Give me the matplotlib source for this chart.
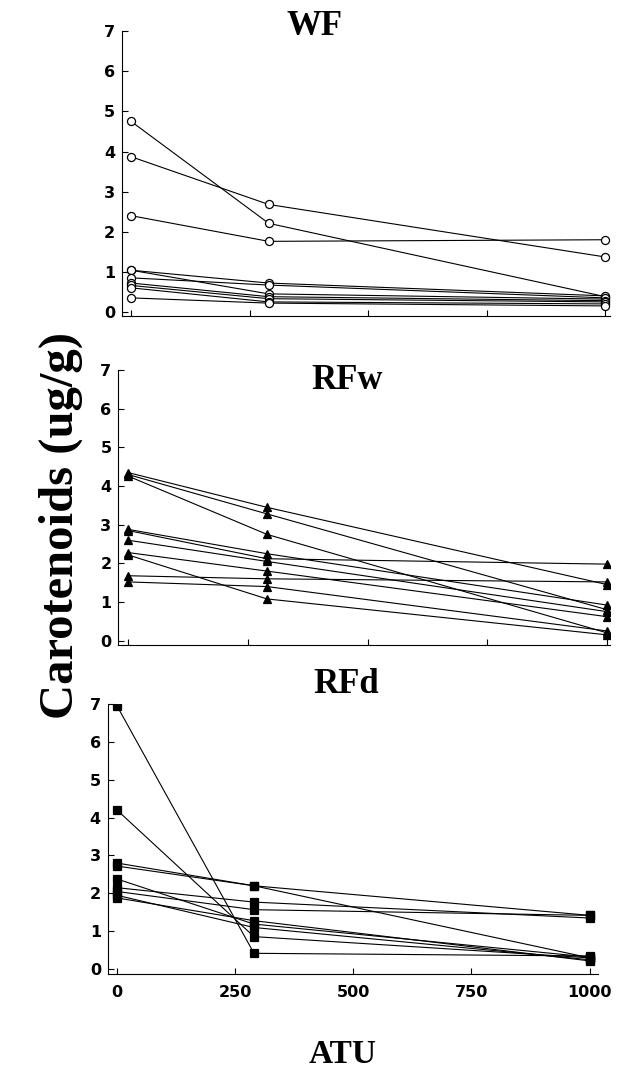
import matplotlib
matplotlib.use('Agg')
import matplotlib.pyplot as plt

# Данные: время (ATU) и каротиноиды (ug/g) для каждой рыбы
atu = [0, 290, 1000]

wf = [
    [4.75, 2.21, 0.38],
    [3.87, 2.68, 1.37],
    [2.40, 1.76, 1.80],
    [1.04, 0.72, 0.40],
    [1.04, 0.45, 0.32],
    [0.85, 0.67, 0.35],
    [0.72, 0.38, 0.28],
    [0.66, 0.33, 0.25],
    [0.60, 0.25, 0.20],
    [0.35, 0.22, 0.15],
]

rfw = [
    [4.35, 3.45, 1.45],
    [4.30, 3.28, 0.80],
    [4.26, 2.75, 0.20],
    [2.88, 2.25, 0.92],
    [2.85, 2.12, 1.98],
    [2.60, 2.05, 0.75],
    [2.28, 1.80, 0.62],
    [2.22, 1.08, 0.15],
    [1.68, 1.60, 1.52],
    [1.52, 1.40, 0.25],
]

rfd = [
    [6.95, 0.42, 0.35],
    [4.20, 0.86, 0.30],
    [2.80, 2.20, 1.42],
    [2.72, 2.20, 0.30],
    [2.38, 1.19, 0.32],
    [2.15, 1.77, 1.35],
    [2.05, 1.57, 1.42],
    [1.95, 1.10, 0.25],
    [1.88, 1.28, 0.22],
]

titles = ['WF', 'RFw', 'RFd']
x_ticks = [0, 250, 500, 750, 1000]
y_ticks = [0, 1, 2, 3, 4, 5, 6, 7]

fig = plt.figure(figsize=(6.2, 10.76), dpi=100)

# Положение панелей (left, bottom, width, height), пределы осей и место заголовка
boxes = [
    [0.197, 0.706, 0.787, 0.265],
    [0.191, 0.401, 0.793, 0.255],
    [0.174, 0.095, 0.790, 0.251],
]
xlims = [(-19, 1010), (-20, 1006), (-19, 1017)]
ylims = [(-0.11, 7), (-0.10, 7), (-0.12, 7)]
title_pos = [(0.508, 0.9675), (0.560, 0.6385), (0.558, 0.356)]
panels = [(wf, 'o', 'white', 5.8), (rfw, '^', 'black', 6.2), (rfd, 's', 'black', 5.5)]

for i, (data, marker, face, ms) in enumerate(panels):
    ax = fig.add_axes(boxes[i])
    for row in data:
        ax.plot(atu, row, color='black', linewidth=0.8, marker=marker,
                markersize=ms, markerfacecolor=face, markeredgecolor='black',
                markeredgewidth=0.9)
    ax.set_xlim(*xlims[i])
    ax.set_ylim(*ylims[i])
    ax.set_xticks(x_ticks)
    ax.set_yticks(y_ticks)
    ax.spines['top'].set_visible(False)
    ax.spines['right'].set_visible(False)
    ax.tick_params(direction='in', length=4, width=0.8)
    ax.tick_params(axis='y', pad=5)
    for lab in ax.get_yticklabels():
        lab.set_fontfamily('DejaVu Sans')
        lab.set_fontweight('bold')
        lab.set_fontsize(11.5)
    if i < 2:
        ax.set_xticklabels([])
    else:
        for lab in ax.get_xticklabels():
            lab.set_fontfamily('DejaVu Sans')
            lab.set_fontweight('bold')
            lab.set_fontsize(11.5)
        ax.tick_params(axis='x', pad=8)
    fig.text(title_pos[i][0], title_pos[i][1], titles[i], ha='center', va='baseline',
             fontfamily='Liberation Serif', fontweight='bold', fontsize=25)

fig.text(0.098, 0.512, 'Carotenoids (ug/g)', rotation=90, ha='center', va='center',
         fontfamily='Liberation Serif', fontweight='bold', fontsize=35)
fig.text(0.552, 0.012, 'ATU', ha='center', va='baseline',
         fontfamily='Liberation Serif', fontweight='bold', fontsize=24)

fig.savefig('out.png', dpi=100)
